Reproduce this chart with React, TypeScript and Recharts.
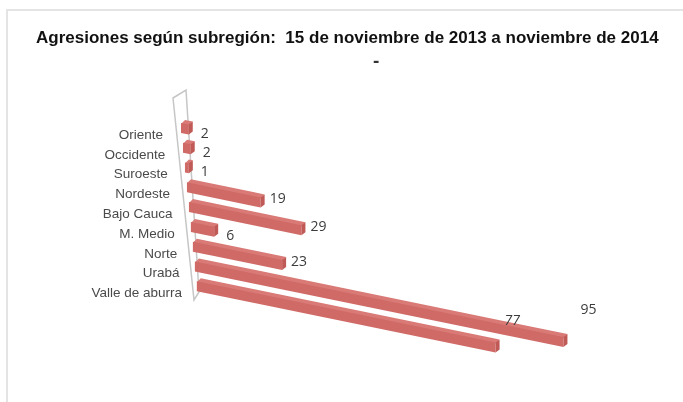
import { BarChart, Bar, XAxis, YAxis, LabelList, Customized } from "recharts";

const subregions = [
  "Oriente", "Occidente", "Suroeste", "Nordeste", "Bajo Cauca",
  "M. Medio", "Norte", "Urabá", "Valle de aburra",
];
const agresiones = [2, 2, 1, 19, 29, 6, 23, 95, 77];

const tableData = subregions.map((name, i) => ({ name, value: agresiones[i] }));

// fake 3D: the plot is sheared so bars run downhill and the baseline leans right
const PLOT_LEFT = 181;
const FIRST_ROW_Y = 127;
const SLOPE = 0.205;
const LEAN = 0.1;
const DEPTH_X = 4;
const DEPTH_Y = 3;

const shear = (x: number, y: number) => [
  x + (y - FIRST_ROW_Y) * LEAN,
  y + (x - PLOT_LEFT) * SLOPE,
];
const pts = (list: number[][]) => list.map((p) => p.join(",")).join(" ");

const Bar3D = ({ x, y, width, height }: any) => {
  const mid = y + height / 2;
  const [ax, ay] = shear(x, mid);
  const [bx, by] = shear(x + width, mid);
  const top = ay - height / 2 + 1;
  const topEnd = by - height / 2 + 1;
  const bottom = top + height;
  const bottomEnd = topEnd + height;
  return (
    <g>
      <polygon
        points={pts([[ax, top + 1], [ax + DEPTH_X, top - DEPTH_Y], [bx + DEPTH_X, topEnd - DEPTH_Y], [bx, topEnd + 1]])}
        fill="#d97a76"
      />
      <polygon points={pts([[ax, top], [bx, topEnd], [bx, bottomEnd], [ax, bottom]])} fill="#d06a66" />
      <polygon
        points={pts([[bx, topEnd], [bx + DEPTH_X, topEnd - DEPTH_Y], [bx + DEPTH_X, bottomEnd - DEPTH_Y], [bx, bottomEnd]])}
        fill="#c05a57"
      />
    </g>
  );
};

const RegionTick = ({ y, payload }: any) => (
  <text
    x={163 + (y - FIRST_ROW_Y) * 0.12}
    y={y + 12}
    textAnchor="end"
    fontFamily="Liberation Sans"
    fontSize={13.5}
    fill="#4a4a4a"
  >
    {payload.value}
  </text>
);

// the labels of the two long bars sit well above their bar ends in the source
const labelGap = (value: number) => (value === 95 ? 17 : value < 10 ? 12 : 9);
const labelRise = (value: number) =>
  value === 95 ? -27 : value === 77 ? -21 : value < 10 ? 9 : 2;

const ValueLabel = ({ x, y, width, height, value }: any) => {
  const [ex, ey] = shear(x + width, y + height / 2);
  return (
    <text
      x={ex + labelGap(value)}
      y={ey + labelRise(value)}
      fontFamily="Open Sans"
      fontSize={14}
      fill="#3c3c3c"
      fontStyle={value === 77 ? "italic" : "normal"}
    >
      {value}
    </text>
  );
};

const BackWall = () => (
  <polygon
    points="173,98 186,90 199,292 194,300"
    fill="none"
    stroke="#c6c6c6"
    strokeWidth={1.5}
  />
);

export default function App() {
  return (
    <div style={{ position: "absolute", left: 0, top: 0, width: 683, height: 402, background: "#fff", overflow: "hidden", filter: "blur(0.5px)" }}>
      <div style={{ position: "absolute", left: 6, top: 9, width: 677, height: 393, borderLeft: "2px solid #e4e4e4", borderTop: "2px solid #e4e4e4", boxSizing: "border-box" }} />
      <div style={{ position: "absolute", left: 36, top: 28, whiteSpace: "nowrap", fontFamily: "Liberation Sans", fontWeight: 700, fontSize: 17, color: "#111" }}>
        Agresiones según subregión:&nbsp; 15 de noviembre de 2013 a noviembre de 2014
      </div>
      <div style={{ position: "absolute", left: 373, top: 50, fontFamily: "Liberation Sans", fontWeight: 700, fontSize: 19, color: "#333" }}>-</div>
      <div style={{ position: "absolute", left: 0, top: 0 }}>
        <BarChart
          width={683}
          height={402}
          data={tableData}
          layout="vertical"
          barSize={10}
          margin={{ top: 117, right: 114, bottom: 107, left: 61 }}
          style={{ background: "transparent" }}
        >
          <XAxis type="number" domain={[0, 100]} hide />
          <YAxis
            type="category"
            dataKey="name"
            width={120}
            interval={0}
            axisLine={false}
            tickLine={false}
            tick={<RegionTick />}
          />
          <Customized component={<BackWall />} />
          <Bar dataKey="value" isAnimationActive={false} shape={<Bar3D />}>
            <LabelList dataKey="value" content={<ValueLabel />} />
          </Bar>
        </BarChart>
      </div>
    </div>
  );
}
